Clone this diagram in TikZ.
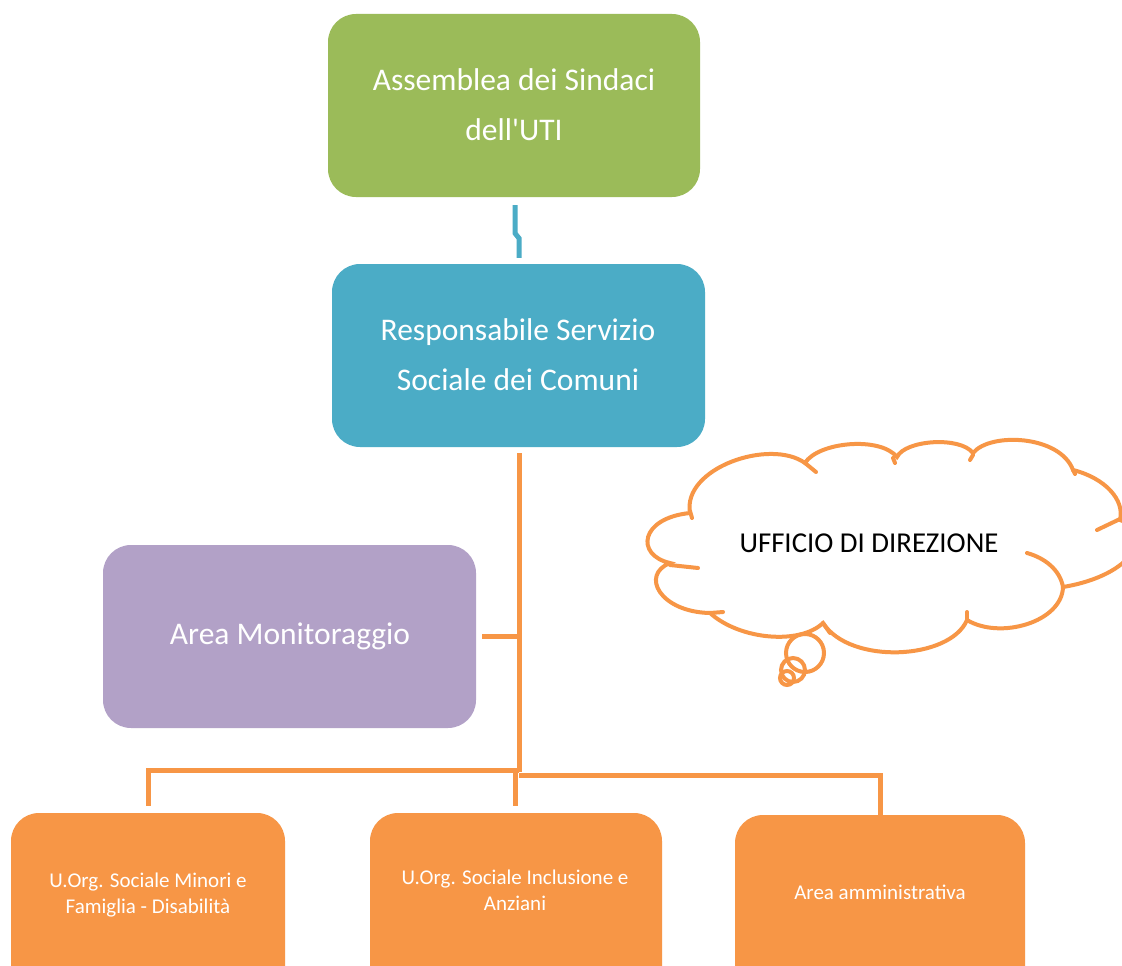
\documentclass[tikz,border=0pt]{standalone}
\usepackage{fontspec}
\setmainfont{Carlito}
\usetikzlibrary{calc}
\definecolor{cgreen}{HTML}{9BBB59}
\definecolor{cblue}{HTML}{4BACC6}
\definecolor{cpurple}{HTML}{B2A1C7}
\definecolor{corange}{HTML}{F79646}
\begin{document}
\begin{tikzpicture}[x=1pt,y=-1pt,
  box/.style={rounded corners=28pt, inner sep=0pt, draw=none},
  bigtext/.style={text=white, align=center, font=\fontsize{31.5}{50}\selectfont},
  smalltext/.style={text=white, align=center, font=\fontsize{21}{26}\selectfont},
  oline/.style={draw=corange, line width=5pt},
  bline/.style={draw=cblue, line width=5pt},
  cloudline/.style={draw=corange, line width=4pt, line cap=round}]
\useasboundingbox (0,0) rectangle (1122,966);
\clip (0,0) rectangle (1122,966);
\fill[white] (0,0) rectangle (1122,966);

% boxes
\node[box, fill=cgreen, minimum width=372pt, minimum height=183pt] (green) at (514,105.5) {};
\node[bigtext] (greent) at (514,105) {Assemblea dei Sindaci\\dell\textquotesingle UTI};
\node[box, fill=cblue, minimum width=373pt, minimum height=183pt] (blue) at (518.5,355.5) {};
\node[bigtext] (bluet) at (518,355) {Responsabile Servizio\\Sociale dei Comuni};
\node[box, fill=cpurple, minimum width=373pt, minimum height=183pt] (purple) at (289.5,636.5) {};
\node[bigtext] (purplet) at (290,636) {Area Monitoraggio};
\node[box, fill=corange, minimum width=274pt, minimum height=186pt] (b1) at (148,906) {};
\node[smalltext] (b1t) at (148,895) {U.Org. Sociale Minori e\\Famiglia - Disabilità};
\node[box, fill=corange, minimum width=292pt, minimum height=186pt] (b2) at (516,906) {};
\node[smalltext] (b2t) at (515,890) {U.Org. Sociale Inclusione e\\Anziani};
\node[box, fill=corange, minimum width=290pt, minimum height=186pt] (b3) at (880,908) {};
\node[smalltext] (b3t) at (880,892) {Area amministrativa};

% connectors
\coordinate (c1) at ($(green.south)+(1,8)$);
\coordinate (c2) at ($(blue.north)+(0.5,-6)$);
\draw[bline] (c1) -- ++(0,28) -- ++(4,5) -- (c2);
\coordinate (t0) at ($(blue.south)+(0.5,6)$);
\coordinate (tp) at (519,636.5);
\coordinate (tl) at (519,770);
\coordinate (tr) at (519,775);
\coordinate (tb) at (519,772);
\draw[oline] (t0) -- (tb);
\draw[oline] (tp) -- ($(purple.east)+(6,0)$);
\draw[oline] (tl) -- (148,770) -- ($(b1.north)+(0,-7)$);
\draw[oline] (515,770) -- ($(b2.north)+(-1,-7)$);
\draw[oline] (tr) -- (880,775) -- (b3.north);

% cloud
\draw[cloudline] (690,513)
  .. controls (682,468) and (770,438) .. (805,463)
  .. controls (818,442) and (880,436) .. (897,457)
  .. controls (905,440) and (960,436) .. (973,453)
  .. controls (990,432) and (1060,435) .. (1073,470)
  .. controls (1105,478) and (1125,500) .. (1120,520)
  .. controls (1155,532) and (1135,575) .. (1063,587)
  .. controls (1062,622) and (1000,640) .. (967,620)
  .. controls (950,660) and (850,665) .. (823,623)
  .. controls (800,645) and (740,640) .. (710,613)
  .. controls (660,612) and (640,575) .. (670,563)
  .. controls (635,555) and (640,518) .. (690,513);
\draw[cloudline] (690,511) -- (692,518);
\draw[cloudline] (805,463) -- (816,472);
\draw[cloudline] (893,458) -- (895,463);
\draw[cloudline] (973,455) -- (970,460);
\draw[cloudline] (1073,470) -- (1075,474);
\draw[cloudline] (1120,519) -- (1097,530);
\draw[cloudline] (1063,587) .. controls (1060,570) and (1045,558) .. (1027,553);
\draw[cloudline] (967,612) -- (967,621);
\draw[cloudline] (823,623) -- (830,633);
\draw[cloudline] (710,613) -- (723,612);
\draw[cloudline] (670,565) -- (698,568);
\draw[cloudline] (805,653) circle (19pt);
\draw[cloudline] (793,670) circle (12pt);
\draw[cloudline] (787,678) circle (7pt);
\node[font=\fontsize{28.8}{34}\selectfont, text=black] (cloudt) at (869,543) {UFFICIO DI DIREZIONE};
\end{tikzpicture}
\end{document}
